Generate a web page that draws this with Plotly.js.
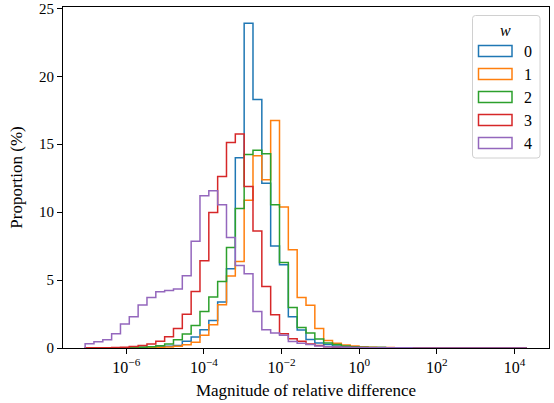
<!DOCTYPE html>
<html><head><meta charset="utf-8">
<script src="https://cdn.plot.ly/plotly-3.0.1.min.js"></script>
<style>html,body{margin:0;padding:0;background:#fff}#chart{width:554px;height:403px}</style>
</head><body><div id="chart"></div>
<script>
// Histogram bins: 50 log-spaced bins between 10^logMin and 10^logMax
const logMin = -7.06, logMax = 4.32, nBins = 50;
const seriesNames = ['0', '1', '2', '3', '4'];
const seriesColors = ['#1f77b4', '#ff7f0e', '#2ca02c', '#d62728', '#9467bd'];

// Proportion (%) per bin
const w0 = [0,0,0.01,0.01,0.02,0.03,0.05,0.07,0.1,0.12,
            0.18,0.49,0.81,1.35,2.03,3.38,5.83,14.0,23.9,18.3,
            12.13,7.5,6.12,2.3,1.33,0.62,0.37,0.25,0.15,0.1,
            0.07,0.05,0.04,0.03,0.02,0.02,0.01,0.01,0.01,0,
            0,0,0,0,0,0,0,0,0,0];
const w1 = [0,0,0,0.01,0.01,0.02,0.03,0.04,0.06,0.08,
            0.12,0.24,0.42,0.93,1.71,3.18,5.3,6.37,10.88,14.15,
            12.38,16.74,10.37,7.23,3.72,3.15,1.44,0.55,0.35,0.22,
            0.15,0.1,0.06,0.04,0.03,0.02,0.02,0.01,0.01,0.01,
            0.01,0.01,0,0,0,0,0,0,0,0];
const w2 = [0,0,0.01,0.01,0.02,0.04,0.06,0.09,0.16,0.29,
            0.61,1.03,1.66,2.69,3.75,4.9,7.4,10.27,14.24,14.55,
            14.3,10.55,6.3,2.98,1.5,1.1,0.67,0.37,0.25,0.15,
            0.09,0.06,0.04,0.03,0.02,0.01,0.01,0.01,0,0,
            0,0,0,0,0,0,0,0,0,0];
const w3 = [0.01,0.01,0.02,0.03,0.06,0.11,0.18,0.3,0.5,0.83,
            1.43,2.48,4.16,6.43,9.98,12.62,15.12,15.76,11.88,8.62,
            4.53,2.45,1.05,0.68,0.5,0.3,0.18,0.1,0.06,0.04,
            0.03,0.02,0.01,0.01,0.01,0,0,0,0,0,
            0,0,0,0,0,0,0,0,0,0];
const w4 = [0.32,0.46,0.61,1.05,1.76,2.3,3.16,3.72,4.14,4.24,
            4.34,5.32,7.85,11.2,11.57,10.55,8.14,6.08,5.47,2.69,
            1.35,1.1,0.93,0.48,0.35,0.25,0.15,0.1,0.07,0.05,
            0.04,0.03,0.02,0.02,0.01,0.01,0.01,0,0,0,
            0,0,0,0,0,0,0,0,0,0];
const seriesValues = [w0, w1, w2, w3, w4];

const xTickVals = [1e-6, 1e-4, 1e-2, 1, 1e2, 1e4];
const xTickText = ['10<sup>\u22126</sup>', '10<sup>\u22124</sup>', '10<sup>\u22122</sup>', '10<sup>0</sup>', '10<sup>2</sup>', '10<sup>4</sup>'];
const yTickVals = [0, 5, 10, 15, 20, 25];

const edges = [];
for (let i = 0; i <= nBins; i++) edges.push(Math.pow(10, logMin + (logMax - logMin) * i / nBins));

function stepTrace(vals, color, name) {
  const x = [edges[0]], y = [0];
  for (let i = 0; i < vals.length; i++) { x.push(edges[i]); y.push(vals[i]); }
  x.push(edges[nBins]); y.push(0);
  return {type: 'scatter', mode: 'lines', x: x, y: y, name: name,
          line: {color: color, width: 1.5, shape: 'hv'}, showlegend: false, hoverinfo: 'skip'};
}
const traces = seriesValues.map((v, i) => stepTrace(v, seriesColors[i], seriesNames[i]));

// Manual legend (rectangle patches like the original)
const W = 486, H = 341, L = 63, T = 7;
const px = X => (X - L) / W;
const py = Y => (T + H - Y) / H;
const shapes = [];
const annotations = [];
(function () {
  const x0 = 472.5, x1 = 540, y0 = 15.5, y1 = 158, r = 3;
  const p = `M${px(x0 + r)},${py(y0)} L${px(x1 - r)},${py(y0)} Q${px(x1)},${py(y0)} ${px(x1)},${py(y0 + r)} ` +
            `L${px(x1)},${py(y1 - r)} Q${px(x1)},${py(y1)} ${px(x1 - r)},${py(y1)} ` +
            `L${px(x0 + r)},${py(y1)} Q${px(x0)},${py(y1)} ${px(x0)},${py(y1 - r)} ` +
            `L${px(x0)},${py(y0 + r)} Q${px(x0)},${py(y0)} ${px(x0 + r)},${py(y0)} Z`;
  shapes.push({type: 'path', xref: 'paper', yref: 'paper', path: p,
               line: {color: '#d0d0d0', width: 1}, fillcolor: 'rgba(255,255,255,0.8)'});
})();
annotations.push({xref: 'paper', yref: 'paper', x: px(505.5), y: py(30.5), text: '<i>w</i>',
                  showarrow: false, xanchor: 'center', yanchor: 'middle', font: {size: 16}});
seriesNames.forEach((n, i) => {
  const cy = 51 + i * 23;
  shapes.push({type: 'rect', xref: 'paper', yref: 'paper', x0: px(478.5), x1: px(512), y0: py(cy - 5.5), y1: py(cy + 5.5),
               line: {color: seriesColors[i], width: 1.5}, fillcolor: 'rgba(0,0,0,0)'});
  annotations.push({xref: 'paper', yref: 'paper', x: px(528), y: py(cy), text: n,
                    showarrow: false, xanchor: 'center', yanchor: 'middle', font: {size: 16}});
});

const axisCommon = {showline: true, mirror: true, linecolor: '#000', linewidth: 1,
                    ticks: 'outside', ticklen: 5, tickwidth: 1, tickcolor: '#000',
                    showgrid: false, zeroline: false};
const layout = {
  width: 554, height: 403,
  margin: {l: L, r: 554 - L - W, t: T, b: 403 - T - H},
  paper_bgcolor: '#fff', plot_bgcolor: '#fff',
  font: {family: '"Liberation Serif", "DejaVu Serif", serif', size: 15, color: '#000'},
  showlegend: false,
  xaxis: Object.assign({}, axisCommon, {
    type: 'log', range: [-7.63, 4.89], tickvals: xTickVals, ticktext: xTickText,
    tickfont: {size: 16},
    title: {text: 'Magnitude of relative difference', font: {size: 17}, standoff: 8}
  }),
  yaxis: Object.assign({}, axisCommon, {
    range: [0, 25.1], tickvals: yTickVals, tickfont: {size: 15},
    title: {text: 'Proportion (%)', font: {size: 17}, standoff: 12}
  }),
  shapes: shapes,
  annotations: annotations
};
Plotly.newPlot('chart', traces, layout, {displayModeBar: false, staticPlot: true});
</script>
</body></html>
